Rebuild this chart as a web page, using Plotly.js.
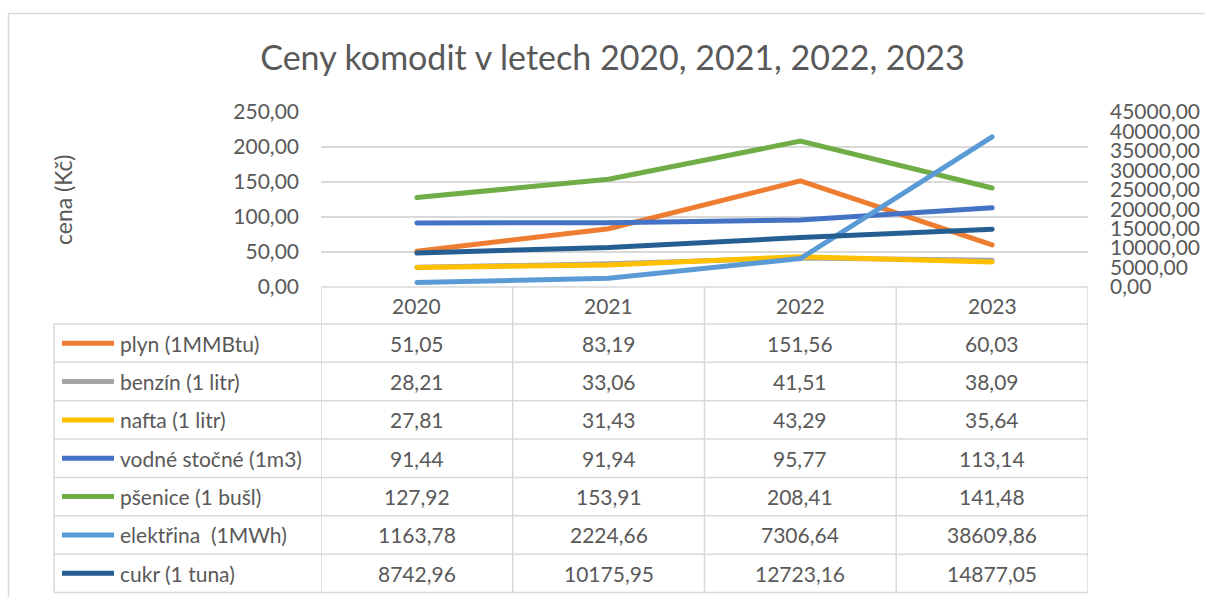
<!DOCTYPE html>
<html>
<head>
<meta charset="utf-8">
<script src="https://cdn.plot.ly/plotly-3.0.1.min.js"></script>
<style>
  body { margin: 0; background: #fff; }
  #chart { width: 1205px; height: 597px; }
  .scatterlayer .js-line { stroke-linecap: round; }
</style>
</head>
<body>
<div id="chart"></div>
<script>
// ---- data ----
const years = ['2020', '2021', '2022', '2023'];
const names = ['plyn (1MMBtu)', 'benzín (1 litr)', 'nafta (1 litr)', 'vodné stočné (1m3)',
               'pšenice (1 bušl)', 'elektřina  (1MWh)', 'cukr (1 tuna)'];
const plyn = [51.05, 83.19, 151.56, 60.03];
const benzin = [28.21, 33.06, 41.51, 38.09];
const nafta = [27.81, 31.43, 43.29, 35.64];
const vodne = [91.44, 91.94, 95.77, 113.14];
const psenice = [127.92, 153.91, 208.41, 141.48];
const elektrina = [1163.78, 2224.66, 7306.64, 38609.86];
const cukr = [8742.96, 10175.95, 12723.16, 14877.05];
const leftTicks = [0, 50, 100, 150, 200, 250];
const rightTicks = [0, 5000, 10000, 15000, 20000, 25000, 30000, 35000, 40000, 45000];

// ---- styling ----
const seriesValues = [plyn, benzin, nafta, vodne, psenice, elektrina, cukr];
const seriesAxis = ['y', 'y', 'y', 'y', 'y', 'y2', 'y2'];
const colors = ['#ED7D31', '#A5A5A5', '#FFC000', '#4472C4', '#70AD47', '#5B9BD5', '#255E91'];
const FONT = 'Lato, "Open Sans", sans-serif';
const TXT = '#595959';
const GRID = '#D9D9D9';

const W = 1205, H = 597;
const L = 321, R = 1088, T = 112, B = 287;
const px2x = px => (px - L) / (R - L);
const px2y = py => (B - py) / (B - T);

const fmt = v => v.toFixed(2).replace('.', ',');

const traces = seriesValues.map((vals, i) => ({
  type: 'scatter', mode: 'lines', x: years, y: vals, name: names[i],
  yaxis: seriesAxis[i], line: { color: colors[i], width: 5 },
  hoverinfo: 'name+y', showlegend: false
}));

// ---- table geometry ----
const headTop = 287, headBot = 324, tableBot = 592.5;
const rowH = (tableBot - headBot) / names.length;
const tableLeft = 54;

const shapes = [];
const annotations = [];
const line = (x0, y0, x1, y1, xref, color, width) => shapes.push({
  type: 'line', xref: xref, yref: 'paper', x0: x0, x1: x1, y0: y0, y1: y1,
  line: { color: color, width: width }, layer: 'above'
});

// outer chart border
shapes.push({ type: 'rect', xref: 'paper', yref: 'paper',
  x0: px2x(8.5), x1: px2x(1215), y0: px2y(13.5), y1: px2y(610),
  line: { color: GRID, width: 1.5 }, fillcolor: 'rgba(0,0,0,0)', layer: 'below' });

// horizontal table lines
line(px2x(L), px2y(headTop), px2x(R), px2y(headTop), 'paper', GRID, 1.5);
for (let r = 0; r <= names.length; r++) {
  const yy = px2y(headBot + r * rowH);
  line(px2x(tableLeft), yy, px2x(R), yy, 'paper', GRID, 1.5);
}
// vertical lines
line(px2x(tableLeft), px2y(headBot), px2x(tableLeft), px2y(tableBot), 'paper', GRID, 1.5);
for (let c = 0; c <= years.length; c++) {
  line(c - 0.5, px2y(headTop), c - 0.5, px2y(tableBot), 'x', GRID, 1.5);
}

// header
years.forEach((yr, c) => annotations.push({
  xref: 'x', yref: 'paper', x: c, y: px2y((headTop + headBot) / 2),
  text: yr, showarrow: false, xanchor: 'center', yanchor: 'middle',
  font: { family: FONT, size: 21, color: TXT }
}));

// rows
names.forEach((nm, r) => {
  const yc = px2y(headBot + (r + 0.5) * rowH);
  line(px2x(62), yc, px2x(114), yc, 'paper', colors[r], 5);
  annotations.push({
    xref: 'paper', yref: 'paper', x: px2x(118), y: yc, text: nm, showarrow: false,
    xanchor: 'left', yanchor: 'middle', font: { family: FONT, size: 21, color: TXT }
  });
  seriesValues[r].forEach((v, c) => annotations.push({
    xref: 'x', yref: 'paper', x: c, y: yc, text: fmt(v), showarrow: false,
    xanchor: 'center', yanchor: 'middle', font: { family: FONT, size: 21, color: TXT }
  }));
});

// y-axis title
annotations.push({
  xref: 'paper', yref: 'paper', x: px2x(63), y: px2y(200), text: 'cena (Kč)',
  textangle: -90, showarrow: false, xanchor: 'center', yanchor: 'middle',
  font: { family: FONT, size: 23, color: TXT }
});

const layout = {
  width: W, height: H,
  margin: { l: L, r: W - R, t: T, b: H - B, pad: 0 },
  paper_bgcolor: '#fff', plot_bgcolor: '#fff',
  separators: ', ',
  font: { family: FONT, color: TXT, size: 20 },
  title: {
    text: 'Ceny komodit v letech 2020, 2021, 2022, 2023',
    xref: 'container', yref: 'container', x: 612.5 / W, y: 1 - 58 / H,
    xanchor: 'center', yanchor: 'middle',
    font: { family: FONT, size: 34, color: TXT }
  },
  xaxis: {
    type: 'category', range: [-0.5, 3.5], showticklabels: false, ticks: '',
    showgrid: false, zeroline: false, showline: false, fixedrange: true
  },
  yaxis: {
    range: [0, 250], tickvals: leftTicks, tickformat: '.2f',
    showgrid: true, gridcolor: GRID, gridwidth: 1.5, zeroline: false, showline: false,
    ticks: '', ticklabelstandoff: 21, tickfont: { family: FONT, size: 21, color: TXT },
    fixedrange: true
  },
  yaxis2: {
    range: [0, 45000], tickvals: rightTicks, tickformat: '.2f', overlaying: 'y', side: 'right',
    showgrid: false, zeroline: false, showline: false, ticks: '', ticklabelstandoff: 21,
    tickfont: { family: FONT, size: 21, color: TXT }, fixedrange: true
  },
  shapes: shapes,
  annotations: annotations,
  showlegend: false
};

Plotly.newPlot('chart', traces, layout, { displayModeBar: false, staticPlot: false });
</script>
</body>
</html>
